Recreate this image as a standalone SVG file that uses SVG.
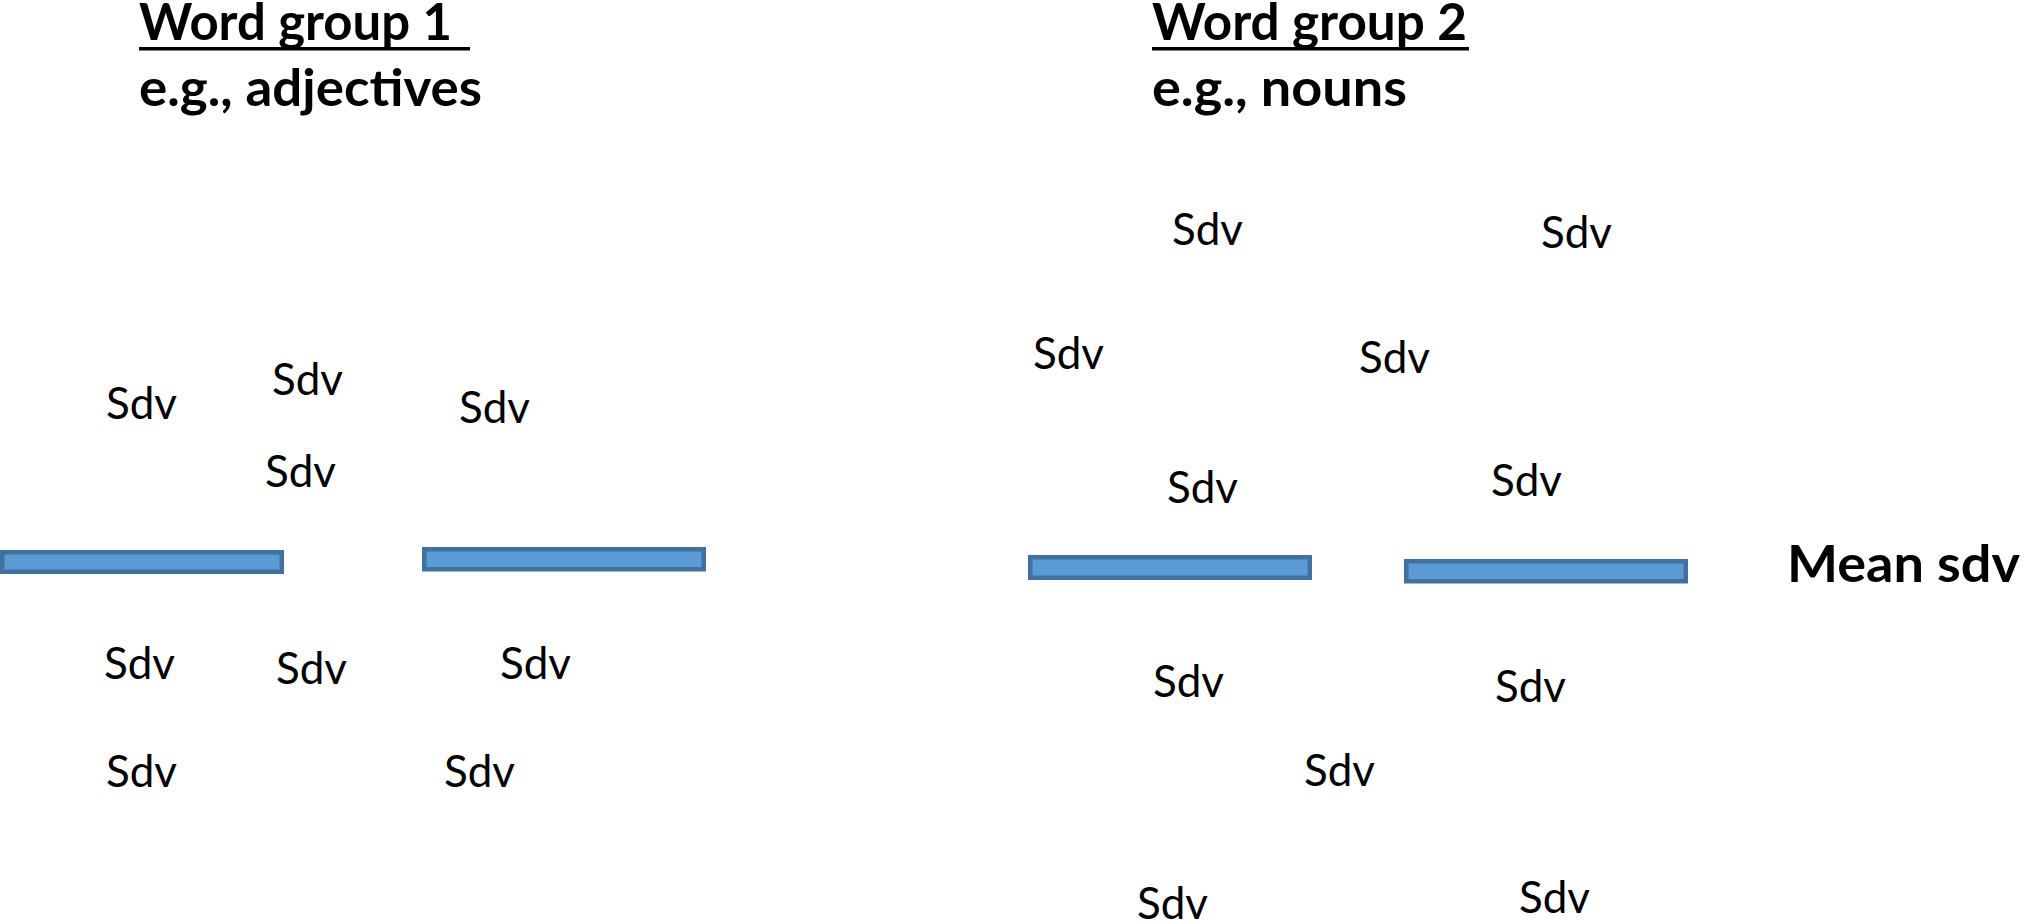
<svg xmlns="http://www.w3.org/2000/svg" width="2028" height="923" viewBox="0 0 2028 923">
<style>
.hd{font-family:Lato,"Noto Sans","Liberation Sans",sans-serif;font-weight:bold;font-size:52px;fill:#000}
.sd{font-family:Lato,"Noto Sans","Liberation Sans",sans-serif;font-size:45px;fill:#000}
.bar{fill:#5B9BD5;stroke:#41719C;stroke-width:4.5}
.ul{fill:#000}
</style>
<rect width="2028" height="923" fill="#fff"/>
<g id="header1">
<text class="hd" x="139" y="40" textLength="313" lengthAdjust="spacingAndGlyphs">Word group 1</text>
<rect class="ul" x="139" y="47" width="331" height="3.5"/>
<text class="hd" x="139" y="106" textLength="343" lengthAdjust="spacingAndGlyphs">e.g., adjectives</text>
</g>
<g id="header2">
<text class="hd" x="1152" y="40" textLength="315" lengthAdjust="spacingAndGlyphs">Word group 2</text>
<rect class="ul" x="1152" y="47" width="317" height="3.5"/>
<text class="hd" x="1152" y="106" textLength="255" lengthAdjust="spacingAndGlyphs">e.g., nouns</text>
</g>
<g id="bars">
<rect id="barL1" class="bar" x="2.25" y="552.25" width="279.5" height="19.5"/>
<rect id="barL2" class="bar" x="424.25" y="549.25" width="279.5" height="20"/>
<rect id="barR1" class="bar" x="1030.25" y="557.25" width="279.5" height="20.5"/>
<rect id="barR2" class="bar" x="1406.25" y="561.25" width="279.5" height="20"/>
</g>
<g id="meanlabel">
<text class="hd" x="1787" y="582" font-size="54" textLength="233" lengthAdjust="spacingAndGlyphs">Mean sdv</text>
</g>
<g id="sdv-group1">
<text class="sd" x="106" y="419" textLength="71" lengthAdjust="spacingAndGlyphs">Sdv</text>
<text class="sd" x="272" y="395" textLength="71" lengthAdjust="spacingAndGlyphs">Sdv</text>
<text class="sd" x="459" y="423" textLength="71" lengthAdjust="spacingAndGlyphs">Sdv</text>
<text class="sd" x="265" y="487" textLength="71" lengthAdjust="spacingAndGlyphs">Sdv</text>
<text class="sd" x="104" y="679" textLength="71" lengthAdjust="spacingAndGlyphs">Sdv</text>
<text class="sd" x="276" y="684" textLength="71" lengthAdjust="spacingAndGlyphs">Sdv</text>
<text class="sd" x="500" y="679" textLength="71" lengthAdjust="spacingAndGlyphs">Sdv</text>
<text class="sd" x="106" y="787" textLength="71" lengthAdjust="spacingAndGlyphs">Sdv</text>
<text class="sd" x="444" y="787" textLength="71" lengthAdjust="spacingAndGlyphs">Sdv</text>
</g>
<g id="sdv-group2">
<text class="sd" x="1172" y="245" textLength="71" lengthAdjust="spacingAndGlyphs">Sdv</text>
<text class="sd" x="1541" y="248" textLength="71" lengthAdjust="spacingAndGlyphs">Sdv</text>
<text class="sd" x="1033" y="369" textLength="71" lengthAdjust="spacingAndGlyphs">Sdv</text>
<text class="sd" x="1359" y="373" textLength="71" lengthAdjust="spacingAndGlyphs">Sdv</text>
<text class="sd" x="1167" y="503" textLength="71" lengthAdjust="spacingAndGlyphs">Sdv</text>
<text class="sd" x="1491" y="496" textLength="71" lengthAdjust="spacingAndGlyphs">Sdv</text>
<text class="sd" x="1153" y="697" textLength="71" lengthAdjust="spacingAndGlyphs">Sdv</text>
<text class="sd" x="1495" y="702" textLength="71" lengthAdjust="spacingAndGlyphs">Sdv</text>
<text class="sd" x="1304" y="786" textLength="71" lengthAdjust="spacingAndGlyphs">Sdv</text>
<text class="sd" x="1137" y="919" textLength="71" lengthAdjust="spacingAndGlyphs">Sdv</text>
<text class="sd" x="1519" y="913" textLength="71" lengthAdjust="spacingAndGlyphs">Sdv</text>
</g>
</svg>
